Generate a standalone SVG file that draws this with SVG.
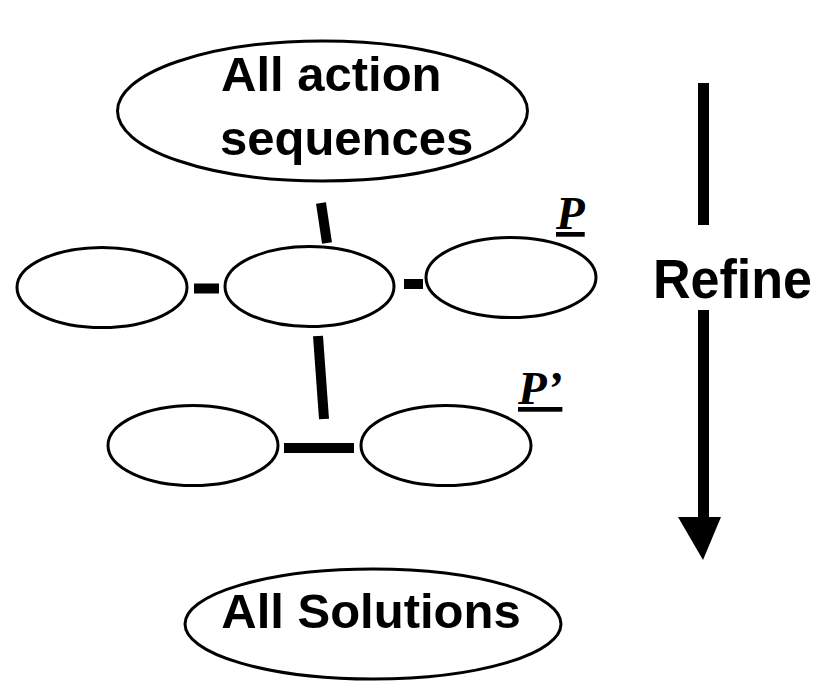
<svg xmlns="http://www.w3.org/2000/svg" width="829" height="683" viewBox="0 0 829 683">
<style>
.node{fill:#fff;stroke:#000;stroke-width:3}
.lbl{font-family:"Liberation Sans",Arial,sans-serif;font-weight:bold;fill:#000}
.p{font-family:"Liberation Serif","Times New Roman",serif;font-weight:bold;font-style:italic;font-size:47px;text-decoration:underline;fill:#000}
.conn{stroke:#000;stroke-width:10;fill:none}
</style>
<rect width="829" height="683" fill="#fff"/>
<g id="connectors">
<line class="conn" x1="321" y1="203" x2="327" y2="243"/>
<line class="conn" x1="194" y1="288.5" x2="219" y2="288.5"/>
<line class="conn" x1="404" y1="284" x2="423" y2="284"/>
<line class="conn" x1="318" y1="336" x2="324" y2="419"/>
<line class="conn" x1="284" y1="448" x2="354" y2="448"/>
</g>
<g id="all-action-sequences">
<ellipse class="node" cx="322.5" cy="111" rx="205" ry="70"/>
<text class="lbl" font-size="49" x="221" y="91">All action</text>
<text class="lbl" font-size="49" x="220" y="155">sequences</text>
</g>
<g id="node-left">
<ellipse class="node" cx="102" cy="287.5" rx="85" ry="40"/>
</g>
<g id="node-mid">
<ellipse class="node" cx="309.5" cy="286.5" rx="84.5" ry="40"/>
</g>
<g id="node-P">
<ellipse class="node" cx="511" cy="277.5" rx="85" ry="40"/>
<text class="p" x="556" y="229">P</text>
</g>
<g id="node-P-prime">
<ellipse class="node" cx="446" cy="445.5" rx="85" ry="40"/>
<text class="p" x="518" y="404">P’</text>
</g>
<g id="node-bottom-left">
<ellipse class="node" cx="193" cy="445.5" rx="85" ry="40"/>
</g>
<g id="all-solutions">
<ellipse class="node" cx="373" cy="624" rx="188" ry="55"/>
<text class="lbl" font-size="49" x="371" y="628" text-anchor="middle">All Solutions</text>
</g>
<g id="refine">
<rect x="698" y="83" width="11" height="142" fill="#000"/>
<rect x="698" y="310" width="11" height="208" fill="#000"/>
<polygon points="678,517 721,517 703,560" fill="#000"/>
<text class="lbl" font-size="55" x="653" y="298" textLength="159" lengthAdjust="spacingAndGlyphs">Refine</text>
</g>
</svg>
